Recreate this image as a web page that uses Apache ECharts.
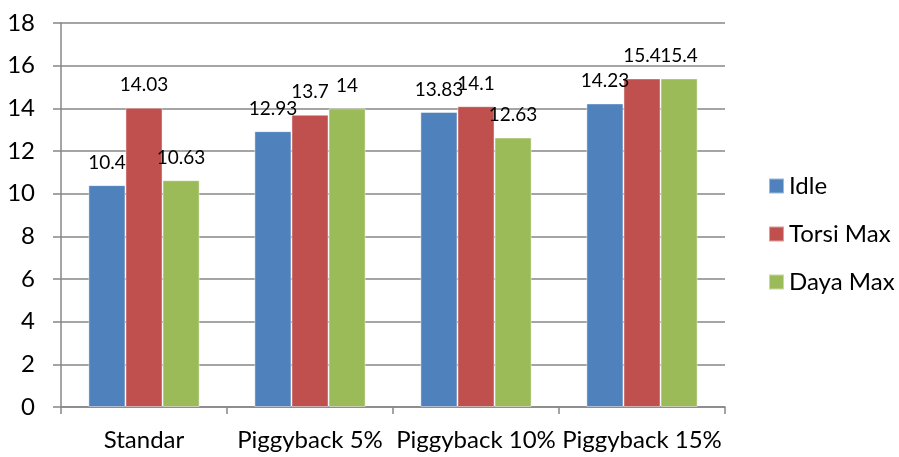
<!DOCTYPE html>
<html>
<head>
<meta charset="utf-8">
<script src="https://cdn.jsdelivr.net/npm/echarts@6/dist/echarts.min.js"></script>
<style>
  html, body { margin: 0; padding: 0; background: #fff; }
  #chart { width: 899px; height: 457px; }
</style>
</head>
<body>
<div id="chart"></div>
<script>
// Categories and series values
var categories = ['Standar', 'Piggyback 5%', 'Piggyback 10%', 'Piggyback 15%'];
var idle = [10.4, 12.93, 13.83, 14.23];
var torsiMax = [14.03, 13.7, 14.1, 15.4];
var dayaMax = [10.63, 14, 12.63, 15.4];
var seriesNames = ['Idle', 'Torsi Max', 'Daya Max'];
var yTicks = { min: 0, max: 18, interval: 2 };

var FONT = 'Lato';
var colors = ['#4F81BD', '#C0504D', '#9BBB59'];
var gridGray = '#878787';

function barSeries(name, data, color) {
  return {
    name: name,
    type: 'bar',
    data: data,
    barGap: '0%',
    barCategoryGap: '33%',
    itemStyle: { color: color, borderColor: 'rgba(255,255,255,0.45)', borderWidth: 1 },
    label: {
      show: true,
      position: 'top',
      distance: 13,
      color: '#000',
      fontFamily: FONT,
      fontSize: 19
    }
  };
}

var chart = echarts.init(document.getElementById('chart'), null, { renderer: 'canvas' });
chart.setOption({
  animation: false,
  backgroundColor: '#fff',
  color: colors,
  grid: { left: 61, right: 174, top: 23, bottom: 50, containLabel: false },
  legend: {
    orient: 'vertical',
    left: 768,
    top: 173,
    padding: 0,
    icon: 'rect',
    itemWidth: 15,
    itemHeight: 15,
    itemGap: 22,
    textStyle: { fontFamily: FONT, fontSize: 24, color: '#000', lineHeight: 26, padding: [0, 0, 0, 0] },
    data: seriesNames
  },
  xAxis: {
    type: 'category',
    data: categories,
    boundaryGap: true,
    axisLine: { lineStyle: { color: gridGray, width: 1.5 } },
    axisTick: { show: true, length: 7, alignWithLabel: false, lineStyle: { color: gridGray, width: 1.5 } },
    axisLabel: { fontFamily: FONT, fontSize: 24, color: '#000', margin: 21, interval: 0 }
  },
  yAxis: {
    type: 'value',
    min: yTicks.min,
    max: yTicks.max,
    interval: yTicks.interval,
    axisLine: { show: true, lineStyle: { color: gridGray, width: 1.5 } },
    axisTick: { show: true, length: 8, lineStyle: { color: gridGray, width: 1.5 } },
    axisLabel: { fontFamily: FONT, fontSize: 24, color: '#000', margin: 26 },
    splitLine: { show: true, lineStyle: { color: gridGray, width: 1.5 } }
  },
  series: [
    barSeries(seriesNames[0], idle, colors[0]),
    barSeries(seriesNames[1], torsiMax, colors[1]),
    barSeries(seriesNames[2], dayaMax, colors[2])
  ]
});
</script>
</body>
</html>
